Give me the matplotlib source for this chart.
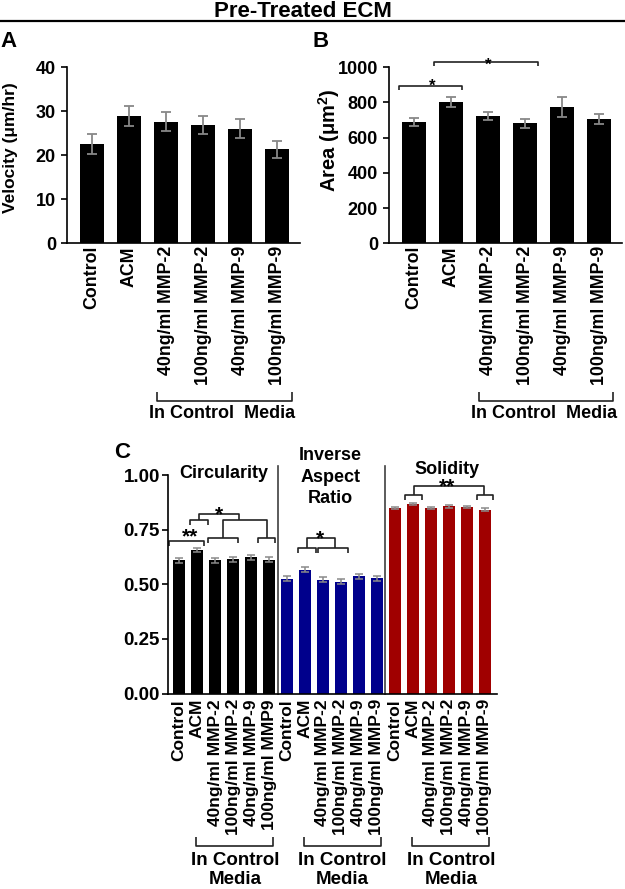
import matplotlib
matplotlib.use("Agg")
import matplotlib.pyplot as plt
from matplotlib.lines import Line2D
from matplotlib.transforms import blended_transform_factory as btf
import numpy as np

plt.rcParams['font.family'] = ['Liberation Sans', 'DejaVu Sans']
plt.rcParams['font.weight'] = 'bold'
plt.rcParams['axes.labelweight'] = 'bold'
plt.rcParams['mathtext.fontset'] = 'custom'
plt.rcParams['mathtext.rm'] = 'Liberation Sans:bold'
plt.rcParams['mathtext.it'] = 'Liberation Sans:bold'
plt.rcParams['mathtext.bf'] = 'Liberation Sans:bold'
plt.rcParams['mathtext.default'] = 'bf'

W, H = 625, 889

# ---------------- data ----------------
categories = ["Control", "ACM", "40ng/ml MMP-2", "100ng/ml MMP-2",
              "40ng/ml MMP-9", "100ng/ml MMP-9"]
categories_circ = ["Control", "ACM", "40ng/ml MMP-2", "100ng/ml MMP-2",
                   "40ng/ml MMP-9", "100ng/ml MMP9"]

velocity = [22.5, 28.9, 27.6, 26.8, 26.0, 21.3]
velocity_err = [2.2, 2.2, 2.1, 2.0, 2.1, 1.9]

area = [689, 799, 723, 680, 774, 705]
area_err = [22, 28, 23, 25, 57, 28]

circularity = [0.609, 0.658, 0.609, 0.614, 0.624, 0.612]
circularity_err = [0.011, 0.010, 0.010, 0.011, 0.012, 0.012]
inverse_aspect = [0.526, 0.567, 0.521, 0.511, 0.536, 0.527]
inverse_aspect_err = [0.012, 0.011, 0.011, 0.011, 0.012, 0.012]
solidity = [0.850, 0.867, 0.849, 0.856, 0.853, 0.842]
solidity_err = [0.005, 0.004, 0.005, 0.005, 0.006, 0.006]

group_titles = ["Circularity", "Inverse\nAspect\nRatio", "Solidity"]
group_colors = ["#000000", "#00008C", "#A00000"]

fig = plt.figure(figsize=(W / 100, H / 100), dpi=100)


def fy(py):
    return 1 - py / H


def fx(px):
    return px / W


LW = 1.2
BR = "#222222"


def style(ax, ylab=13):
    for s in ['top', 'right']:
        ax.spines[s].set_visible(False)
    for s in ['left', 'bottom']:
        ax.spines[s].set_linewidth(LW)
    ax.tick_params(axis='y', length=4, width=LW, labelsize=ylab, pad=4)
    ax.tick_params(axis='x', length=0, pad=2)


def bracket(ax, x1, x2, y, y1, y2=None, transform=None):
    if y2 is None:
        y2 = y1
    kw = dict(color=BR, lw=1.2, clip_on=False, solid_capstyle='butt')
    if transform is not None:
        kw['transform'] = transform
    ax.plot([x1, x1, x2, x2], [y1, y, y, y2], **kw)


# title
fig.text(fx(303), fy(16.7), "Pre-Treated ECM", ha='center', va='baseline',
         fontsize=16, fontweight='bold')
fig.add_artist(Line2D([0, 1], [fy(20.7), fy(20.7)], color='black', lw=1.6))

# panel letters
fig.text(fx(0), fy(47), "A", ha='left', va='baseline', fontsize=16, fontweight='bold')
fig.text(fx(313), fy(47), "B", ha='left', va='baseline', fontsize=16, fontweight='bold')
fig.text(fx(114), fy(458), "C", ha='left', va='baseline', fontsize=16, fontweight='bold')

x6 = np.arange(len(categories))
ekw = dict(ecolor='#888888', elinewidth=1.3, capsize=3.5, capthick=1.3)

# ---------------- Panel A ----------------
axA = fig.add_axes([fx(67), fy(243.3), fx(233), 176.3 / H])
axA.bar(x6, velocity, width=0.65, color='black', yerr=velocity_err,
        error_kw=ekw, zorder=2)
axA.set_xlim(-0.68, 5.62)
axA.set_ylim(0, 40)
axA.set_yticks([0, 10, 20, 30, 40])
axA.set_xticks(x6, categories, rotation=90, fontsize=12.8, fontweight='bold')
style(axA)
fig.text(fx(11), fy(148), "Velocity (μm/hr)", rotation=90, ha='center',
         va='center', fontsize=12.5, fontweight='bold')
trA = btf(axA.transData, fig.transFigure)
bracket(axA, 1.75, 5.41, fy(400.7), fy(391.7), transform=trA)
axA.text(3.5, fy(418), "In Control  Media", transform=trA, ha='center',
         va='baseline', fontsize=13, fontweight='bold')

# ---------------- Panel B ----------------
axB = fig.add_axes([fx(389), fy(243.3), fx(233), 176.3 / H])
axB.bar(x6, area, width=0.65, color='black', yerr=area_err,
        error_kw=ekw, zorder=2)
axB.set_xlim(-0.68, 5.62)
axB.set_ylim(0, 1000)
axB.set_yticks([0, 200, 400, 600, 800, 1000])
axB.set_xticks(x6, categories, rotation=90, fontsize=12.8, fontweight='bold')
style(axB)
fig.text(fx(329), fy(140), "Area (μm$^{2}$)", rotation=90, ha='center',
         va='center', fontsize=14.5, fontweight='bold')
bracket(axB, -0.4, 1.3, 892, 868)
axB.text(0.5, 867, "*", ha='center', va='baseline', fontsize=12, fontweight='bold')
bracket(axB, 0.54, 3.35, 1028, 1004)
axB.text(2.0, 986, "*", ha='center', va='baseline', fontsize=12, fontweight='bold')
trB = btf(axB.transData, fig.transFigure)
bracket(axB, 1.76, 5.38, fy(400.7), fy(391.7), transform=trB)
axB.text(3.5, fy(418), "In Control  Media", transform=trB, ha='center',
         va='baseline', fontsize=13, fontweight='bold')

# ---------------- Panel C ----------------
axC = fig.add_axes([fx(167.7), fy(693.5), fx(329.3), 218.5 / H])
groups = [(circularity, circularity_err), (inverse_aspect, inverse_aspect_err),
          (solidity, solidity_err)]
ekwC = dict(ecolor='#8a8a8a', elinewidth=1.1, capsize=2.6, capthick=1.1)
all_labels = []
for g, ((vals, errs), col) in enumerate(zip(groups, group_colors)):
    xs = np.arange(6) + 6 * g
    axC.bar(xs, vals, width=0.67, color=col, yerr=errs, error_kw=ekwC, zorder=2)
    all_labels += categories_circ if g == 0 else categories
axC.set_xlim(-0.63, 17.67)
axC.set_ylim(0, 1.0)
axC.set_yticks([0, 0.25, 0.5, 0.75, 1.0], ["0.00", "0.25", "0.50", "0.75", "1.00"])
axC.set_xticks(np.arange(18), all_labels, rotation=90, fontsize=12.5,
               fontweight='bold')
style(axC, ylab=13.5)
axC.tick_params(axis='y', pad=1.5)
axC.tick_params(axis='x', pad=4)

# separators
for xs in [5.48, 11.45]:
    axC.plot([xs, xs], [0, 1.041], color='#404040', lw=1.2, clip_on=False)

trC = btf(axC.transData, fig.transFigure)
axC.text(2.47, fy(478), group_titles[0], transform=trC, ha='center',
         va='baseline', fontsize=13, fontweight='bold')
for line, base in zip(group_titles[1].split("\n"), [460, 482, 503]):
    axC.text(8.42, fy(base), line, transform=trC, ha='center',
             va='baseline', fontsize=13, fontweight='bold')
axC.text(14.9, fy(474), group_titles[2], transform=trC, ha='center',
         va='baseline', fontsize=13, fontweight='bold')

# significance brackets - circularity
bracket(axC, -0.55, 1.39, 0.699, 0.675)
axC.text(0.6, 0.690, "**", ha='center', va='baseline', fontsize=15, fontweight='bold')
bracket(axC, 1.6, 3.3, 0.710, 0.689)
bracket(axC, 4.4, 5.35, 0.710, 0.689)
bracket(axC, 2.43, 4.87, 0.794, 0.710)
bracket(axC, 0.6, 1.6, 0.794, 0.771)
bracket(axC, 1.13, 3.35, 0.821, 0.794)
axC.text(2.2, 0.790, "*", ha='center', va='baseline', fontsize=15, fontweight='bold')
# inverse aspect ratio
bracket(axC, 6.6, 7.6, 0.665, 0.643)
bracket(axC, 7.7, 9.37, 0.668, 0.643)
bracket(axC, 7.1, 8.67, 0.710, 0.666)
axC.text(7.85, 0.683, "*", ha='center', va='baseline', fontsize=15, fontweight='bold')
# solidity
bracket(axC, 12.55, 13.5, 0.908, 0.886)
bracket(axC, 16.57, 17.43, 0.908, 0.886)
bracket(axC, 13.08, 16.96, 0.950, 0.908)
axC.text(14.9, 0.922, "**", ha='center', va='baseline', fontsize=15, fontweight='bold')

# "In Control Media" brackets
for g, tx in zip(range(3), [3.1, 9.05, 15.1]):
    bracket(axC, 6 * g + 0.94, 6 * g + 5.2, fy(846), fy(837), transform=trC)
    axC.text(tx, fy(865), "In Control", transform=trC, ha='center',
             va='baseline', fontsize=13.5, fontweight='bold')
    axC.text(tx, fy(884), "Media", transform=trC, ha='center',
             va='baseline', fontsize=13.5, fontweight='bold')

fig.savefig("out.png", dpi=100)
